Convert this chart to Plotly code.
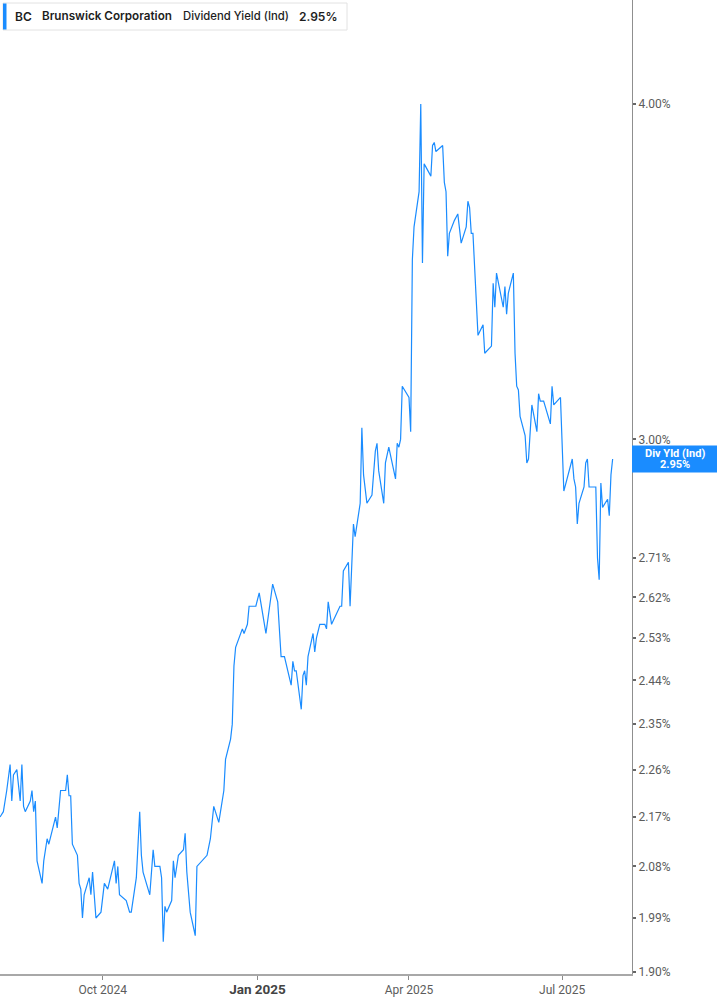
import math
import plotly.graph_objects as go

# ---------------- data ----------------
dates = [
    "2024-08-01", "2024-08-03", "2024-08-05", "2024-08-07", "2024-08-08", "2024-08-09", "2024-08-11",
    "2024-08-13", "2024-08-14", "2024-08-15", "2024-08-16", "2024-08-19", "2024-08-20", "2024-08-21",
    "2024-08-22", "2024-08-23", "2024-08-26", "2024-08-27", "2024-08-29", "2024-08-30",
    "2024-09-03", "2024-09-04", "2024-09-06", "2024-09-09", "2024-09-10", "2024-09-11", "2024-09-12",
    "2024-09-13", "2024-09-16", "2024-09-17", "2024-09-18", "2024-09-19", "2024-09-20", "2024-09-23",
    "2024-09-24", "2024-09-25", "2024-09-27", "2024-09-30",
    "2024-10-02", "2024-10-04", "2024-10-08", "2024-10-09", "2024-10-10", "2024-10-11", "2024-10-15",
    "2024-10-17", "2024-10-18", "2024-10-21", "2024-10-23", "2024-10-24", "2024-10-25", "2024-10-29",
    "2024-10-31",
    "2024-11-01", "2024-11-04", "2024-11-05", "2024-11-06", "2024-11-07", "2024-11-08", "2024-11-11",
    "2024-11-12", "2024-11-13", "2024-11-15", "2024-11-18", "2024-11-19", "2024-11-20", "2024-11-22",
    "2024-11-25", "2024-11-26", "2024-11-29",
    "2024-12-02", "2024-12-04", "2024-12-06", "2024-12-09", "2024-12-12", "2024-12-13", "2024-12-16",
    "2024-12-17", "2024-12-18", "2024-12-19", "2024-12-20", "2024-12-23", "2024-12-24", "2024-12-26",
    "2024-12-27", "2024-12-30", "2024-12-31",
    "2025-01-02", "2025-01-06", "2025-01-10", "2025-01-13", "2025-01-15", "2025-01-17", "2025-01-21",
    "2025-01-22", "2025-01-23", "2025-01-24", "2025-01-27", "2025-01-28", "2025-01-29", "2025-01-30",
    "2025-01-31",
    "2025-02-03", "2025-02-04", "2025-02-05", "2025-02-07", "2025-02-10", "2025-02-11", "2025-02-12",
    "2025-02-14", "2025-02-19", "2025-02-20", "2025-02-21", "2025-02-24", "2025-02-25", "2025-02-27",
    "2025-02-28",
    "2025-03-03", "2025-03-04", "2025-03-05", "2025-03-07", "2025-03-10", "2025-03-12", "2025-03-13",
    "2025-03-14", "2025-03-17", "2025-03-18", "2025-03-20", "2025-03-24", "2025-03-25", "2025-03-26",
    "2025-03-27", "2025-03-28",
    "2025-04-01", "2025-04-02", "2025-04-03", "2025-04-04", "2025-04-07", "2025-04-08", "2025-04-09",
    "2025-04-10", "2025-04-11", "2025-04-14", "2025-04-15", "2025-04-16", "2025-04-17", "2025-04-21",
    "2025-04-22", "2025-04-23", "2025-04-24", "2025-04-25", "2025-04-28", "2025-04-30",
    "2025-05-02", "2025-05-05", "2025-05-06", "2025-05-07", "2025-05-08", "2025-05-09", "2025-05-12",
    "2025-05-15", "2025-05-16", "2025-05-20", "2025-05-21", "2025-05-22", "2025-05-23", "2025-05-27",
    "2025-05-28", "2025-05-29", "2025-05-30",
    "2025-06-02", "2025-06-03", "2025-06-04", "2025-06-05", "2025-06-06", "2025-06-09", "2025-06-10",
    "2025-06-11", "2025-06-13", "2025-06-16", "2025-06-17", "2025-06-18", "2025-06-20", "2025-06-24",
    "2025-06-25", "2025-06-26", "2025-06-30",
    "2025-07-02", "2025-07-07", "2025-07-08", "2025-07-09", "2025-07-10", "2025-07-11", "2025-07-14",
    "2025-07-15", "2025-07-16", "2025-07-17", "2025-07-18", "2025-07-21", "2025-07-22", "2025-07-23",
    "2025-07-24", "2025-07-25", "2025-07-28", "2025-07-29", "2025-07-30", "2025-07-31",
]

dividend_yield = [
    2.17, 2.18, 2.22, 2.27, 2.20, 2.25, 2.26,
    2.20, 2.27, 2.19, 2.18, 2.20, 2.22, 2.18,
    2.20, 2.09, 2.05, 2.09, 2.13, 2.12,
    2.17, 2.15, 2.22, 2.22, 2.25, 2.21, 2.21,
    2.12, 2.10, 2.05, 2.04, 1.99, 2.03, 2.06,
    2.03, 2.07, 1.99, 2.00,
    2.05, 2.04, 2.09, 2.05, 2.08, 2.03, 2.02,
    2.00, 2.00, 2.06, 2.18, 2.10, 2.07, 2.03,
    2.11,
    2.08, 2.08, 2.06, 1.95, 2.01, 2.00, 2.02,
    2.09, 2.06, 2.10, 2.11, 2.14, 2.07, 2.00,
    1.96, 2.08, 2.09,
    2.10, 2.13, 2.19, 2.16, 2.22, 2.28, 2.32,
    2.35, 2.47, 2.51, 2.52, 2.55, 2.54, 2.56,
    2.60, 2.60, 2.60,
    2.63, 2.54, 2.65, 2.61, 2.49, 2.49, 2.43,
    2.48, 2.46, 2.46, 2.38, 2.45, 2.46, 2.43,
    2.49,
    2.54, 2.50, 2.53, 2.56, 2.56, 2.55, 2.61,
    2.56, 2.60, 2.60, 2.68, 2.70, 2.60, 2.79,
    2.76,
    2.84, 3.03, 2.91, 2.84, 2.86, 2.97, 2.99,
    2.92, 2.84, 2.94, 2.98, 2.90, 2.99, 2.98,
    3.00, 3.14,
    3.11, 3.02, 3.50, 3.60, 3.71, 4.00, 3.49,
    3.80, 3.79, 3.76, 3.86, 3.87, 3.84, 3.86,
    3.74, 3.71, 3.51, 3.58, 3.62, 3.64,
    3.55, 3.60, 3.68, 3.66, 3.58, 3.58, 3.28,
    3.31, 3.23, 3.25, 3.43, 3.36, 3.46, 3.36,
    3.42, 3.34, 3.40,
    3.46, 3.23, 3.14, 3.13, 3.06, 3.01, 2.94,
    2.95, 3.09, 3.02, 3.12, 3.10, 3.10, 3.04,
    3.14, 3.09, 3.11,
    2.87, 2.95, 2.90, 2.88, 2.79, 2.84, 2.88,
    2.94, 2.95, 2.88, 2.88, 2.88, 2.71, 2.66,
    2.89, 2.83, 2.85, 2.81, 2.91, 2.95,
]

y_tick_values = [1.90, 1.99, 2.08, 2.17, 2.26, 2.35, 2.44, 2.53, 2.62, 2.71, 3.00, 4.00]
x_tick_dates = ["2024-10-01", "2025-01-01", "2025-04-01", "2025-07-01"]
x_tick_labels = ["Oct 2024", "Jan 2025", "Apr 2025", "Jul 2025"]

ticker = "BC"
company = "Brunswick Corporation"
metric = "Dividend Yield (Ind)"
short_metric = "Div Yld (Ind)"

# ---------------- styling ----------------
LINE_BLUE = "#1a8cff"
AXIS_GREY = "#a8a8a8"
TEXT_GREY = "#5c5c5c"
W, H = 717, 1005
ML, MR, MT, MB = 0, 85, 0, 31
PW, PH = W - ML - MR, H - MT - MB
Y_LO, Y_HI = math.log10(1.8967), math.log10(4.373)


def px_x(px):
    return px / PW


def px_y(py):
    return 1 - py / PH


fig = go.Figure()
fig.add_trace(go.Scatter(
    x=dates, y=dividend_yield, mode="lines",
    line=dict(color=LINE_BLUE, width=1.2),
    hoverinfo="skip", showlegend=False,
))

x_ticktext = []
for lab in x_tick_labels:
    if lab.startswith("Jan"):
        x_ticktext.append(f"<span style='font-size:13.5px;font-weight:bold;fill:#444'>{lab}</span>")
    else:
        x_ticktext.append(lab)

fig.update_layout(
    width=W, height=H,
    margin=dict(l=ML, r=MR, t=MT, b=MB, pad=0),
    paper_bgcolor="white", plot_bgcolor="white",
    font=dict(family="Roboto, Liberation Sans, sans-serif", color=TEXT_GREY, size=12),
    showlegend=False,
    xaxis=dict(
        type="date",
        range=["2024-08-01", "2025-08-11 12:00"],
        showgrid=False, zeroline=False,
        showline=True, linecolor=AXIS_GREY, linewidth=2,
        ticks="outside", ticklen=4, tickcolor="#8a8a8a", tickwidth=1,
        tickvals=x_tick_dates, ticktext=x_ticktext,
        tickfont=dict(size=12, color=TEXT_GREY),
        fixedrange=True,
    ),
    yaxis=dict(
        type="log", side="right",
        range=[Y_LO, Y_HI],
        showgrid=False, zeroline=False,
        showline=True, linecolor="#8f8f8f", linewidth=1,
        ticks="outside", ticklen=3, tickcolor="#666666", tickwidth=2,
        tickvals=y_tick_values,
        ticktext=[f"{v:.2f}%" for v in y_tick_values],
        tickfont=dict(size=12, color=TEXT_GREY),
        fixedrange=True,
    ),
)

# legend-like header box
fig.add_shape(type="rect", xref="paper", yref="paper",
              x0=px_x(3), x1=px_x(347), y0=px_y(30), y1=px_y(3),
              line=dict(color="#e2e2e2", width=1), fillcolor="white", layer="above")
fig.add_shape(type="rect", xref="paper", yref="paper",
              x0=px_x(3), x1=px_x(6.5), y0=px_y(29.5), y1=px_y(3.5),
              line=dict(width=0), fillcolor=LINE_BLUE, layer="above")

header_parts = [
    (ticker, 13, 12, 600),
    (company, 40, 11.7, 600),
    (metric, 181, 11.3, 500),
    (f"{dividend_yield[-1]:.2f}%", 297, 12, 600),
]
for txt, xpos, fsize, fweight in header_parts:
    fig.add_annotation(
        xref="paper", yref="paper", x=px_x(xpos), y=px_y(16.5),
        xanchor="left", yanchor="middle", showarrow=False,
        text=txt,
        font=dict(family="Inter, Roboto, sans-serif", size=fsize, color="#1d1d1d", weight=fweight),
    )

# last value tag on the right axis
last = dividend_yield[-1]
frac = (math.log10(last) - Y_LO) / (Y_HI - Y_LO)
half = 13.5 / PH
fig.add_shape(type="rect", xref="paper", yref="paper",
              x0=1.0, x1=W / PW, y0=frac - half, y1=frac + half,
              line=dict(width=0), fillcolor=LINE_BLUE, layer="above")
for txt, shift in [(short_metric, 5.5), (f"{last:.2f}%", -5.5)]:
    fig.add_annotation(
        xref="paper", yref="y", x=(PW + (W - PW) / 2) / PW, y=math.log10(last),
        xanchor="center", yanchor="middle", yshift=shift, showarrow=False,
        text=f"<b>{txt}</b>",
        font=dict(family="Roboto, sans-serif", size=11, color="white"),
    )

fig.write_html(
    "out.html",
    config={"displayModeBar": False, "staticPlot": True},
    post_script="document.body.style.margin='0px';document.body.style.overflow='hidden';",
)
